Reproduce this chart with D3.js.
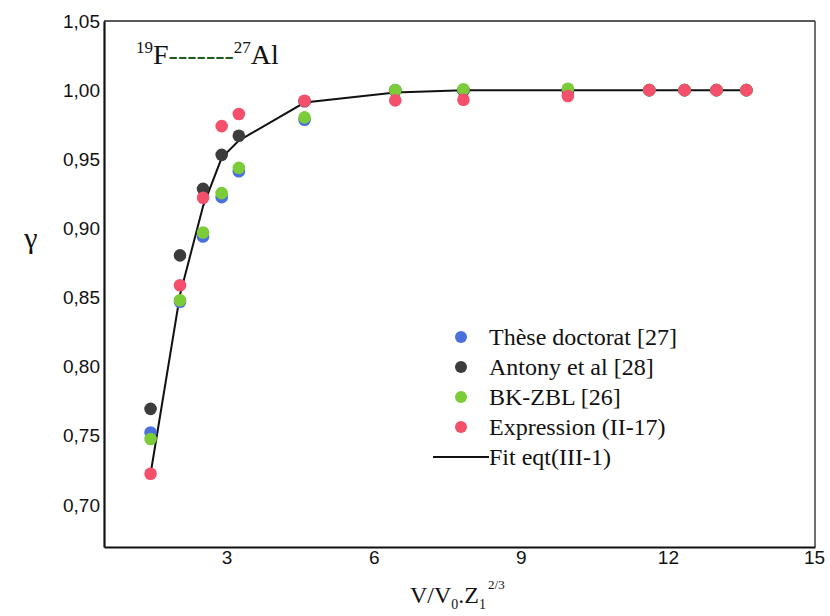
<!DOCTYPE html>
<html>
<head>
<meta charset="utf-8">
<script src="https://cdn.jsdelivr.net/npm/d3@7"></script>
<style>
  html, body { margin: 0; padding: 0; background: #fff; }
  svg { display: block; }
</style>
</head>
<body>
<svg id="chart" width="830" height="616"></svg>
<script>
// Reduced velocity V/V0.Z1^(2/3)
const xValues = [1.45, 2.05, 2.52, 2.9, 3.25, 4.59, 6.44, 7.83, 9.96, 11.62, 12.34, 12.99, 13.6];

// gamma values for each source
const theseDoctorat = [0.7524, 0.847, 0.8942, 0.9226, 0.9413, 0.9786, 1.0, 1.0, 1.0, 1.0, 1.0, 1.0, 1.0];
const antony        = [0.7695, 0.8805, 0.9286, 0.9532, 0.967, 0.992, 0.9995, 1.0, 1.0, 1.0, 1.0, 1.0, 1.0];
const bkZbl         = [0.7477, 0.8481, 0.897, 0.9255, 0.9438, 0.9803, 1.0, 1.0006, 1.001, 1.0, 1.0, 1.0, 1.0];
const expression    = [0.7226, 0.8589, 0.9222, 0.974, 0.9827, 0.9923, 0.9926, 0.993, 0.9958, 1.0, 1.0, 1.0, 1.0];
const fitCurve      = [0.7226, 0.852, 0.916, 0.951, 0.9635, 0.991, 0.9983, 1.0, 1.0, 1.0, 1.0, 1.0, 1.0];

const seriesNames = ["Thèse doctorat [27]", "Antony et al [28]", "BK-ZBL [26]", "Expression (II-17)"];
const fitName = "Fit eqt(III-1)";
const xTicks = [3, 6, 9, 12, 15];
const yTicks = [0.70, 0.75, 0.80, 0.85, 0.90, 0.95, 1.00, 1.05];

const colors = ["#4a70dc", "#3c3c3c", "#7ccc3a", "#f4506c"];
const seriesValues = [theseDoctorat, antony, bkZbl, expression];

const svg = d3.select("#chart");
const plotLeft = 104, plotRight = 815, plotTop = 21, plotBottom = 547;

const x = d3.scaleLinear().domain([0.5, 15]).range([plotLeft, plotRight]);
const y = d3.scaleLinear().domain([0.6696, 1.05]).range([plotBottom, plotTop]);

// frame
svg.append("line").attr("x1", plotLeft).attr("x2", plotRight).attr("y1", plotTop).attr("y2", plotTop)
  .attr("stroke", "#222").attr("stroke-width", 1.3);
svg.append("line").attr("x1", plotRight).attr("x2", plotRight).attr("y1", plotTop).attr("y2", plotBottom)
  .attr("stroke", "#222").attr("stroke-width", 1.3);

const fmt = d => d3.format(".2f")(d).replace(".", ",");

const yAxis = svg.append("g").attr("transform", `translate(${plotLeft},0)`)
  .call(d3.axisLeft(y).tickValues(yTicks).tickSize(0).tickPadding(4).tickFormat(fmt));
const xAxis = svg.append("g").attr("transform", `translate(0,${plotBottom})`)
  .call(d3.axisBottom(x).tickValues(xTicks).tickSize(0).tickPadding(4).tickFormat(d3.format("d")));

[yAxis, xAxis].forEach(g => {
  g.select(".domain").attr("stroke", "#111").attr("stroke-width", 2.2);
  g.selectAll("text").attr("font-family", "'Liberation Sans', Arial, sans-serif")
    .attr("font-size", 19).attr("fill", "#111");
});
// the last label sits flush against the right edge
xAxis.selectAll(".tick text").filter(d => d === 15).attr("dx", -1);

// fit line
const line = d3.line().x((d, i) => x(xValues[i])).y(d => y(d));
svg.append("path").datum(fitCurve).attr("d", line)
  .attr("fill", "none").attr("stroke", "#111").attr("stroke-width", 2);

// scatter points, drawn in series order
seriesValues.forEach((vals, si) => {
  svg.append("g").selectAll("circle").data(vals).join("circle")
    .attr("cx", (d, i) => x(xValues[i]))
    .attr("cy", d => y(d))
    .attr("r", 6.3)
    .attr("fill", colors[si]);
});

// title
const title = svg.append("text").attr("x", 136).attr("y", 64)
  .attr("font-family", "'Liberation Serif', 'Times New Roman', serif").attr("font-size", 28).attr("fill", "#111");
title.append("tspan").attr("font-size", 17).attr("dy", -11).text("19");
title.append("tspan").attr("dy", 11).text("F");
title.append("tspan").attr("fill", "#1f5a1f").text("-------");
title.append("tspan").attr("font-size", 17).attr("dy", -11).text("27");
title.append("tspan").attr("dy", 11).text("Al");

// legend
const legX = 461, legY = 337, legStep = 30;
const legend = svg.append("g");
seriesNames.forEach((name, i) => {
  legend.append("circle").attr("cx", legX).attr("cy", legY + i * legStep).attr("r", 6).attr("fill", colors[i]);
  legend.append("text").attr("x", legX + 28).attr("y", legY + i * legStep + 8)
    .attr("font-family", "'Liberation Serif', 'Times New Roman', serif").attr("font-size", 24)
    .attr("fill", "#111").text(name);
});
legend.append("line").attr("x1", 433).attr("x2", 489)
  .attr("y1", legY + 4 * legStep).attr("y2", legY + 4 * legStep)
  .attr("stroke", "#111").attr("stroke-width", 2);
legend.append("text").attr("x", 489).attr("y", legY + 4 * legStep + 8)
  .attr("font-family", "'Liberation Serif', 'Times New Roman', serif").attr("font-size", 24)
  .attr("fill", "#111").text(fitName);

// axis titles
svg.append("text").attr("x", 31).attr("y", 248).attr("text-anchor", "middle")
  .attr("font-family", "'Liberation Serif', 'Times New Roman', serif").attr("font-size", 30)
  .attr("fill", "#111").text("γ");

const xt = svg.append("text").attr("x", 410).attr("y", 603)
  .attr("font-family", "'Liberation Serif', 'Times New Roman', serif").attr("font-size", 24).attr("fill", "#111");
xt.append("tspan").text("V/V");
xt.append("tspan").attr("font-size", 14).attr("dy", 6).text("0");
xt.append("tspan").attr("dy", -6).text(".Z");
xt.append("tspan").attr("font-size", 14).attr("dy", 6).text("1");
xt.append("tspan").attr("font-size", 13).attr("dy", -20).attr("dx", 2).text("2/3");
</script>
</body>
</html>
